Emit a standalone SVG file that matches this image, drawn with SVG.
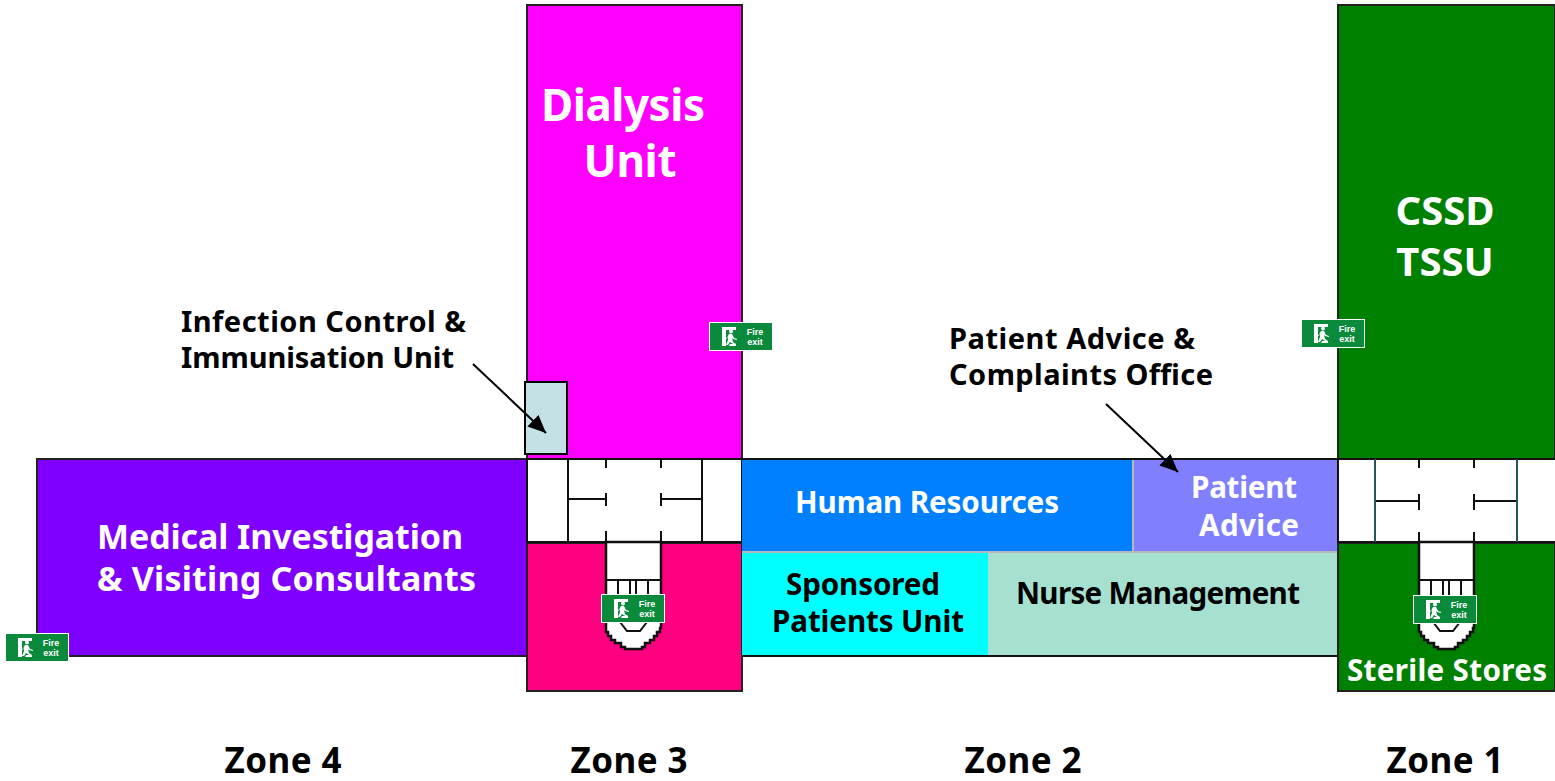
<svg xmlns="http://www.w3.org/2000/svg" width="1555" height="781" viewBox="0 0 1555 781">
<style>
text{font-family:"Noto Sans","DejaVu Sans",sans-serif;font-weight:700}
.w{fill:#fff}.k{fill:#000}
.l{font-size:44px}.c{font-size:40px}.m{font-size:34px}.z{font-size:35px}.s{font-size:29.6px}.n{font-size:29px}
.room{stroke:#222;stroke-width:2}
.wall{stroke:#111;stroke-width:2;fill:none}
.teal{stroke:#24555c;stroke-width:2;fill:none}
.sep{stroke:#b8b8b8;stroke-width:2;fill:none}
.ar{stroke:#000;stroke-width:2;fill:none;marker-end:url(#ah)}
.sg{font-family:"Liberation Sans",sans-serif;font-size:9px;fill:#fff;text-anchor:middle}
</style>
<defs>
<marker id="ah" markerUnits="userSpaceOnUse" markerWidth="20" markerHeight="18" refX="18" refY="8" orient="auto"><path d="M0 0L18 8L0 16z" fill="#000"/></marker>
<g id="sign">
<rect x="0" y="0" width="64" height="29" fill="#999"/>
<rect x="0.5" y="0.5" width="63" height="28" fill="#0b8a3c" stroke="#fff"/>
<path d="M13 5H27V8H17V24H13z" fill="#fff"/>
<circle cx="22" cy="9.500" r="2" fill="#fff"/>
<path d="M20 12h3l2 4 3 1v1l-4-1-1-1 1 4 3 2v2h-7l1-2h3l-3-2-2 3h-2l2-5V14l-1 3h-1z" fill="#fff"/>
<text class="sg" x="46" y="13">Fire</text><text class="sg" x="46" y="23">exit</text>
</g>
<g id="stair">
<path d="M0 0H55V86h-1v4h-3v4h-3v4h-4v3h-5v4h-3v2H19v-2h-4v-4h-6v-3H5v-4H2v-4H0z" fill="#fff" stroke="#111" stroke-width="2.500"/>
<path class="wall" d="M0 38H55M12 38V60M24 38V60M30 38V60M42 38V60M14 80L21 89H34L41 80"/>
</g>
</defs>

<g id="dialysis-unit"><rect class="room" x="527" y="5" width="215" height="454" fill="#f0f"/><text class="w l" text-anchor="middle" x="623" y="121" textLength="164">Dialysis</text><text class="w l" text-anchor="middle" x="630" y="177" textLength="93">Unit</text></g>
<g id="cssd-tssu"><rect class="room" x="1338" y="5" width="217" height="454" fill="#008000"/><text class="w c" text-anchor="middle" x="1445" y="225">CSSD</text><text class="w c" text-anchor="middle" x="1445" y="276">TSSU</text></g>
<g id="medical-investigation"><rect class="room" x="37" y="459" width="490" height="197" fill="#8000ff"/><text class="w m" x="97" y="549" textLength="366">Medical Investigation</text><text class="w m" x="97" y="591" textLength="379">&amp; Visiting Consultants</text></g>
<g id="zone3-lower"><rect class="room" x="527" y="543" width="215" height="148" fill="#ff0080"/></g>
<g id="zone3-core"><rect x="527" y="459" width="215" height="84" fill="#fff"/>
<path class="wall" d="M527 459H742M527 542H742M527 459V543M742 459V543M568 459V542M702 459V542M568 499H606M661 499H702M606 459V468M661 459V468M606 493V506M661 493V506M606 531V542M661 531V542"/>
<use href="#stair" x="606" y="542"/></g>
<g id="human-resources"><rect x="742" y="459" width="391" height="92" fill="#0080ff"/><text class="w s" text-anchor="middle" x="927" y="513" textLength="264">Human Resources</text></g>
<g id="patient-advice"><rect x="1133" y="459" width="204" height="92" fill="#8080ff"/><text class="w s" text-anchor="middle" x="1244" y="498" textLength="106">Patient</text><text class="w s" text-anchor="middle" x="1249" y="536" textLength="100">Advice</text></g>
<g id="sponsored-patients"><rect x="742" y="553" width="246" height="103" fill="#0ff"/><text class="k s" text-anchor="middle" x="863" y="595" textLength="154">Sponsored</text><text class="k s" text-anchor="middle" x="868" y="632" textLength="192">Patients Unit</text></g>
<g id="nurse-management"><rect x="988" y="553" width="349" height="103" fill="#a6e0d0"/><text class="k s" text-anchor="middle" x="1158" y="604" textLength="284">Nurse Management</text></g>
<path id="zone2-separators" class="sep" d="M742 552H1337M1133 460V551"/>
<path id="zone2-outline" class="wall" d="M742 459H1337M742 656H1337"/>
<g id="sterile-stores"><rect class="room" x="1338" y="543" width="217" height="148" fill="#008000"/><text class="w s" text-anchor="middle" x="1447" y="681" textLength="200">Sterile Stores</text></g>
<g id="zone1-core"><rect x="1338" y="459" width="217" height="84" fill="#fff"/>
<path class="wall" d="M1338 459H1555M1338 542H1555M1338 459V543M1375 501H1419M1474 501H1517M1419 459V468M1474 459V468M1419 494V510M1474 494V510M1419 532V542M1474 532V542"/>
<path class="teal" d="M1375 459V542M1517 459V542"/>
<use href="#stair" x="1419" y="542"/></g>
<g id="infection-control"><rect x="525" y="382" width="42" height="72" fill="#c4e2e6" stroke="#000" stroke-width="2"/><text class="k n" x="181" y="332" textLength="285">Infection Control &amp;</text><text class="k n" x="181" y="368" textLength="273">Immunisation Unit</text></g>
<g id="patient-advice-office"><text class="k n" x="949" y="349" textLength="246">Patient Advice &amp;</text><text class="k n" x="949" y="385" textLength="264">Complaints Office</text></g>
<g id="connectors"><path class="ar" d="M473 364L546 433"/><path class="ar" d="M1106 404L1178 472"/></g>
<g id="fire-exits"><use href="#sign" x="709" y="322"/><use href="#sign" x="1301" y="319"/><use href="#sign" x="5" y="633"/><use href="#sign" x="601" y="594"/><use href="#sign" x="1413" y="595"/></g>
<g id="zones"><text class="k z" text-anchor="middle" x="283" y="773" textLength="117">Zone 4</text><text class="k z" text-anchor="middle" x="629" y="773" textLength="117">Zone 3</text><text class="k z" text-anchor="middle" x="1023" y="773" textLength="117">Zone 2</text><text class="k z" text-anchor="middle" x="1445" y="773" textLength="117">Zone 1</text></g>
</svg>
